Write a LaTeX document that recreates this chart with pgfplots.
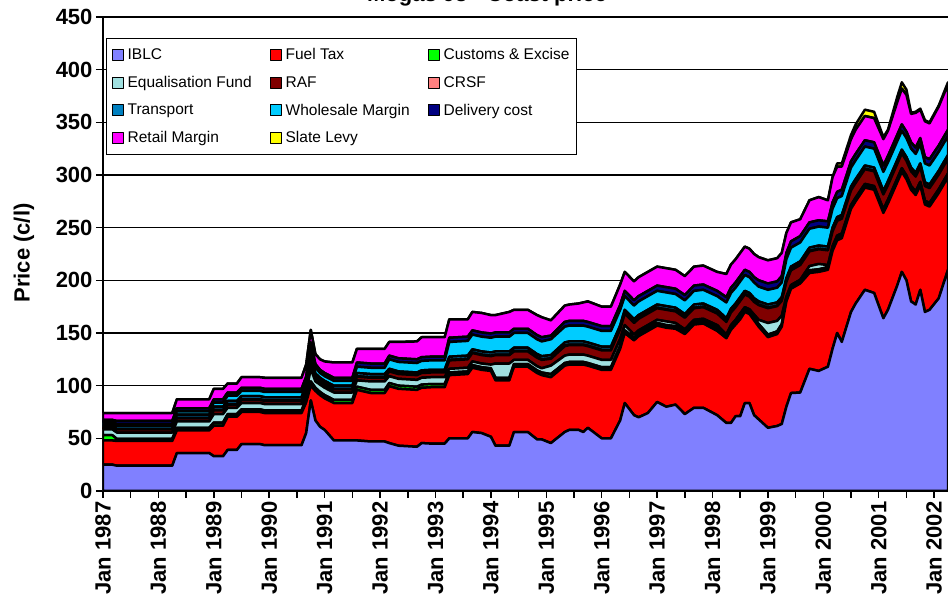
\documentclass[border=0pt]{standalone}
\usepackage{fontspec}
\setmainfont{Liberation Sans}
\usepackage{pgfplots}
\usepackage{pgfplotstable}
\pgfplotsset{compat=1.18}

\definecolor{ciblc}{RGB}{128,128,255}
\definecolor{cfuel}{RGB}{255,0,0}
\definecolor{ccust}{RGB}{0,255,0}
\definecolor{cequal}{RGB}{160,224,224}
\definecolor{craf}{RGB}{128,0,0}
\definecolor{ccrsf}{RGB}{255,128,128}
\definecolor{ctransp}{RGB}{0,128,192}
\definecolor{cwhole}{RGB}{0,204,255}
\definecolor{cdeliv}{RGB}{0,0,128}
\definecolor{cretail}{RGB}{255,0,255}
\definecolor{cslate}{RGB}{255,255,0}

% month index from Jan 1987, cents per litre
\pgfplotstableread{
m iblc fuel cust equal raf crsf transp whole deliv retail slate
0 25 23 5 5.5 2 0.5 2.5 1.5 2.5 6.5 0
2 25 23 5 5.5 2 0.5 2.5 1.5 2.5 6.5 0
3 24 23.5 2 6 3 0.5 3 1.5 3 7.5 0
15 24 23.5 2 6 3 0.5 3 1.5 3 7.5 0
16 36 21.5 2.5 6 3 0.5 3 3 3 8.5 0
23 36 21.5 2.5 6 3 0.5 3 3 3 8.5 0
24 33 29 3 8 3.5 0.5 3 4 3 10 0
26 33 29 3 8 3.5 0.5 3 4 3 10 0
27 39 31.5 2.5 6 3 0.5 3 5 3 8.5 0
29 39 31.5 2.5 6 3 0.5 3 5 3 8.5 0
30 44.5 30.5 2.5 6 3 0.5 3 5 3 10 0
34 44.5 30.5 2.5 6 3 0.5 3 5 3 10 0
35 43.5 30.5 2.5 6 3 0.5 3 5 3 10.5 0
43 43.5 30.5 2.5 6 3 0.5 3 5 3 10.5 0
44 55 29 3 7 3 0.5 3 5 3 11.5 0
45 86 14 4 12 6 1 5 8 5 12 0
46 67 28 3 6 4 0.5 3 6 3 9.5 0
47 61 30 3 7 3 0.5 3 4.5 3 10 0
48 58 30 3 7 3 0.5 3 4.5 3 11 0
50 48 35.5 3 7 3 0.5 3 4.5 3 14.5 0
54 48 35.5 3 7 3 0.5 3 4.5 3 14.5 0
55 48 48 3 6 3.5 0.5 3 6 4 13 0
58 47 46 3 8 3.5 0.5 3 6 4 14 0
61 47 46 3 8 3.5 0.5 3 6 4 14 0
62 45.5 54 3 6.5 4.5 0.5 2 9 3.5 13 0
64 43 54 3 6.5 4.5 0.5 2 9 3.5 15.5 0
68 42 54 3 6.5 4.5 0.5 2 9 3.5 17 0
69 45.5 52.5 3 6.5 4.5 0.5 2 9 3.5 19 0
71 45 53.5 3 6.5 4.5 0.5 2 9 3.5 18.5 0
74 45 53.5 3 6.5 4.5 0.5 2 9 3.5 18.5 0
75 50 60 2.5 3.5 8 0.5 3 14 4 17.5 0
79 50 61 2.5 3.5 8 0.5 3 14 4 16.5 0
80 56 61 2.5 3.5 8 0.5 3 14 4 17.5 0
82 55 60 2.5 3.5 8 0.5 3 14 4 18.5 0
84 51.5 62.5 2.5 3.5 8 0.5 3 14 4 17.5 0
85 43 62 2.5 13.5 8 0.5 3 14 4 16.5 0
88 43 62 2.5 13.5 8 0.5 3 14 4 19.5 0
89 56 62 2.5 4 8 0.5 3 14 4 18 0
92 56 62 2.5 4 8 0.5 3 14 4 18 0
94 49 63 2.5 4 8 0.5 3 14 4 19 0
95 49 61 2.5 4 8 0.5 3 14 4 19 0
97 45.5 62.5 3 8 6.5 0.5 3 15 3.5 14.5 0
100 56 63 2.5 7 9 0.5 3 15 4.5 15.5 0
101 58 62 2.5 7 9 0.5 3 15 4.5 15.5 0
103 58 62 2.5 7 9 0.5 3 15 4.5 16.5 0
104 56 64 2.5 7 9 0.5 3 15 4.5 17.5 0
105 60 59 2.5 7 9 0.5 3 15 4.5 19.5 0
108 50 65 2.5 7 9 0.5 3 15 4.5 18.5 0
110 50 65 2.5 7 9 0.5 3 15 4.5 18.5 0
112 67 68 2.5 7 9 0.5 3 15 4.5 19.5 0
113 83.5 66.5 2.5 5 11 0.5 3 13 5 18 0
115 72 71 2.5 3 11 0.5 3 13 5 18 0
116 70 77 2.5 3 11 0.5 3 13 5 18 0
118 74 78 2.5 3 11 0.5 3 13 5 18 0
120 84.5 72.5 2.5 3 11 0.5 3 13 5 18 0
122 80 75 2.5 3.5 11 0.5 3 13 5 18 0
124 82 72 2.5 3 11 0.5 3 13 5 18 0
126 73 76 2.5 2 11 0.5 3 13 5 18 0
128 79 79 2.5 2 11 0.5 3 13 5 18 0
130 79 80 2.5 2 11 0.5 3 13 5 18 0
133 72 80 2.5 3 11 0.5 3 13 5 18 0
135 64.6 80.4 2.5 1 12 0.5 3 15 5 22 0
136 64.6 88.4 2.5 2 12 0.5 3 15 5 22 0
137 71 87 2.5 2 12 0.5 3 15 5 22 0
138 71 92 2.5 3 12 0.5 3 15 5 22 0
139 83.5 86.5 2.5 2 12 0.5 3 15 5 22 0
140 83.5 84.5 2.5 2 12 0.5 3 15 5 22 0
141 72 90 2.5 3 12 0.5 3 15 5 22 0
142 68 88 2.5 4 14 0.5 3 14 6 22 0
144 60 86 2.5 11 14 0.5 3 14 6 22 0
146 61.7 87.3 2.5 10 14 0.5 3 14 6 22 0
147 63.6 92.4 2.5 8 14 0.5 3 14 6 22 0
148 80 100 2.5 2 14 0.5 3 18 6 19 0
149 93 99 2.5 1 14 0.5 3 18 6 18 0
151 93.5 103.5 2.5 1 14 0.5 3 18 6 16 0
153 116 91 2.5 4 14 0.5 3 18 6 21 0
155 114 94 2.5 5 14 0.5 3 18 6 22 0
157 118 92 2.5 2 14 0.5 3 18 6 20 0
158 135 93 2.5 2 14 0.5 3 18 6 24 0
159 150 88 2.5 2 14 0.5 3 18 6 24 3
160 141.5 98.5 2.5 2 14 0.5 3 18 6 22 3
162 170 98 2.5 1 14 0.5 3 18 6 21 4
163 178 97 2.5 1 14 0.5 3 18 6 23 5
165 191 97 2.5 1 14 0.5 3 18 6 23 6
167 188 98 2.5 1 14 0.5 3 18 6 23 6
169 164 100 2.5 1 14 0.5 3 18 6 25 2
170 172 101 2.5 1 14 0.5 3 18 6 24 1
172 195 98 2.5 1 14 0.5 3 18 6 31 5
173 208 95 2.5 1 14 0.5 3 18 6 34 6
174 200 96 2.5 1 14 0.5 3 18 6 35 5
175 180 106 2.5 1 14 0.5 3 18 6 27 1
176 177 104 2.5 1 14 0.5 3 18 6 33 1
177 191 99 2.5 1 14 0.5 3 18 6 27 1
178 170 102 2.5 1 14 0.5 3 18 6 34 1
179 172 98 2.5 1 14 0.5 3 18 6 34 1
181 183 100 2.5 1 14 0.5 3 18 6 37 1
183 210 88 2.5 1 14 0.5 3 18 6 43 2
}\mogas

\newcommand{\lA}[1]{\makebox[138pt][l]{#1}}
\newcommand{\lB}[1]{\makebox[126pt][l]{#1}}

\begin{document}
\begin{tikzpicture}
\useasboundingbox (-103pt,-113pt) rectangle (845pt,491pt);
\begin{axis}[
	at={(0pt,0pt)}, anchor=south west,
	scale only axis,
	width=845pt, height=474pt,
	stack plots=y,
	xmin=0, xmax=183,
	ymin=0, ymax=450,
	ytick={0,50,...,450},
	xtick={0,12,...,180},
	minor xtick={6,18,...,174},
	xticklabels={Jan 1987,Jan 1988,Jan 1989,Jan 1990,Jan 1991,Jan 1992,Jan 1993,Jan 1994,Jan 1995,Jan 1996,Jan 1997,Jan 1998,Jan 1999,Jan 2000,Jan 2001,Jan 2002},
	tick align=outside,
	major tick length=7pt, minor tick length=7pt,
	tick style={black, line width=1.5pt},
	axis x line*=bottom, axis y line*=left,
	axis line style={black, line width=2pt},
	ymajorgrids,
	grid style={black, line width=1.5pt},
	/pgf/number format/assume math mode=true,
	ticklabel style={font=\bfseries\fontsize{22}{22}\selectfont},
	xticklabel style={rotate=90, anchor=east},
	title={Mogas 93 - Coast price},
	title style={at={(rel axis cs:0.4544,1)}, anchor=base, yshift=9pt, font=\bfseries\fontsize{22}{26}\selectfont},
	ylabel={Price (c/l)},
	every axis y label/.style={at={(rel axis cs:0,0.502)}, xshift=-79pt, rotate=90, anchor=center, font=\bfseries\fontsize{22}{26}\selectfont},
	every axis plot/.append style={draw=black, line width=2.5pt, line join=round},
	legend image code/.code={\draw[#1, line width=1pt] (0pt,-5.5pt) rectangle (11pt,5.5pt);},
	legend columns=3,
	legend cell align=left,
	legend style={at={(rel axis cs:0.0036,0.956)}, anchor=north west,
		draw=black, line width=1.2pt, fill=white,
		font=\fontsize{15.5}{17}\selectfont,
		inner xsep=5pt, inner ysep=8pt, row sep=11pt,
		/tikz/every odd column/.append style={column sep=2pt},
		/tikz/every even column/.append style={column sep=2pt}},
]
\addplot[fill=ciblc] table[x=m,y=iblc]{\mogas} \closedcycle;
\addlegendentry{\lA{IBLC}}
\addplot[fill=cfuel] table[x=m,y=fuel]{\mogas} \closedcycle;
\addlegendentry{\lA{Fuel Tax}}
\addplot[fill=ccust] table[x=m,y=cust]{\mogas} \closedcycle;
\addlegendentry{\lB{Customs \& Excise}}
\addplot[fill=cequal] table[x=m,y=equal]{\mogas} \closedcycle;
\addlegendentry{\lA{Equalisation Fund}}
\addplot[fill=craf] table[x=m,y=raf]{\mogas} \closedcycle;
\addlegendentry{\lA{RAF}}
\addplot[fill=ccrsf] table[x=m,y=crsf]{\mogas} \closedcycle;
\addlegendentry{\lB{CRSF}}
\addplot[fill=ctransp] table[x=m,y=transp]{\mogas} \closedcycle;
\addlegendentry{\lA{Transport}}
\addplot[fill=cwhole] table[x=m,y=whole]{\mogas} \closedcycle;
\addlegendentry{\lA{Wholesale Margin}}
\addplot[fill=cdeliv] table[x=m,y=deliv]{\mogas} \closedcycle;
\addlegendentry{\lB{Delivery cost}}
\addplot[fill=cretail] table[x=m,y=retail]{\mogas} \closedcycle;
\addlegendentry{\lA{Retail Margin}}
\addplot[fill=cslate] table[x=m,y=slate]{\mogas} \closedcycle;
\addlegendentry{\lA{Slate Levy}}
\end{axis}
\end{tikzpicture}
\end{document}
